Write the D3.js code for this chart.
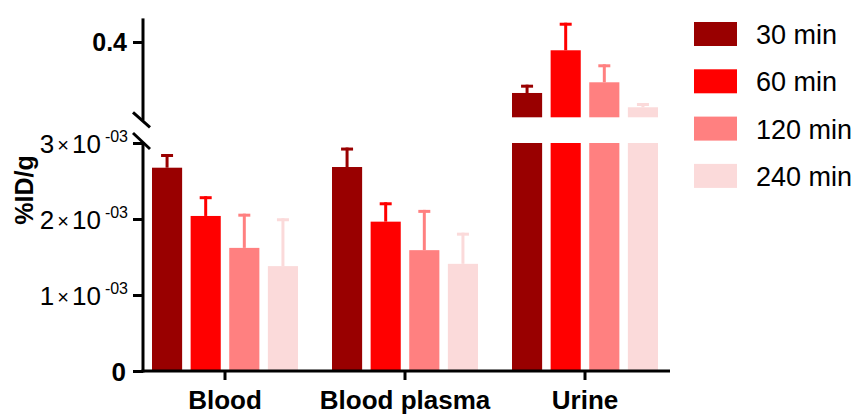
<!DOCTYPE html>
<html>
<head>
<meta charset="utf-8">
<script src="https://cdn.jsdelivr.net/npm/d3@7"></script>
<style>
  body { margin: 0; background: #fff; }
  svg { display: block; font-family: Arial, "Liberation Sans", sans-serif; }
</style>
</head>
<body>
<svg id="chart" width="860" height="415"></svg>
<script>
// ---- data ----
const groups = ["Blood", "Blood plasma", "Urine"];
const series = ["30 min", "60 min", "120 min", "240 min"];
const colors = ["#990000", "#ff0000", "#ff8080", "#fbdada"];
const means = [
  [0.002675, 0.002684, 0.3323],
  [0.00204, 0.001965, 0.389],
  [0.00162, 0.00159, 0.3465],
  [0.00138, 0.00141, 0.3133]
];
const errs = [
  [0.00018, 0.000256, 0.011],
  [0.00026, 0.000255, 0.0366],
  [0.00045, 0.00053, 0.0239],
  [0.00063, 0.00041, 0.0057]
];
const lowTicks = [0, 0.001, 0.002, 0.003];
const lowTickLabels = ["0", "1", "2", "3"];
const highTicks = [0.4];
const highTickLabels = ["0.4"];
const lowDomain = [0, 0.003];
const highDomain = [0.3, 0.43];

// ---- layout ----
const FONT = 'Arial, "Liberation Sans", sans-serif';
const svg = d3.select("#chart");
const axisX = 143;
const x0 = d3.scaleBand().domain(groups).range([135, 675]).padding(0);
const x1 = d3.scaleBand().domain(series).range([17, 163]).paddingInner(0.22).paddingOuter(0);
const yLow = d3.scaleLinear().domain(lowDomain).range([371, 143]);
const yHigh = d3.scaleLinear().domain(highDomain)
  .range([117.3, 117.3 - (highDomain[1] - highDomain[0]) * 753]);

// ---- bars ----
const data = [];
series.forEach((s, si) => groups.forEach((g, gi) => {
  data.push({ s, si, g, gi, v: means[si][gi], e: errs[si][gi] });
}));

const bars = svg.append("g");
data.forEach(d => {
  const x = x0(d.g) + x1(d.s);
  const w = x1.bandwidth();
  const c = colors[d.si];
  const lowTop = yLow(Math.min(d.v, lowDomain[1]));
  bars.append("rect").attr("x", x).attr("y", lowTop).attr("width", w)
    .attr("height", yLow(0) - lowTop).attr("fill", c);
  const top = d.v + d.e;
  let barTopY, errY;
  if (d.v > lowDomain[1]) {
    barTopY = yHigh(d.v);
    bars.append("rect").attr("x", x).attr("y", barTopY).attr("width", w)
      .attr("height", yHigh(highDomain[0]) - barTopY).attr("fill", c);
    errY = yHigh(top);
  } else {
    barTopY = lowTop;
    errY = yLow(top);
  }
  const cx = x + w / 2;
  bars.append("line").attr("x1", cx).attr("x2", cx).attr("y1", barTopY).attr("y2", errY)
    .attr("stroke", c).attr("stroke-width", 3);
  bars.append("line").attr("x1", cx - 6).attr("x2", cx + 6).attr("y1", errY + 1.5).attr("y2", errY + 1.5)
    .attr("stroke", c).attr("stroke-width", 3);
});

// ---- y axes ----
const lowAxis = svg.append("g").attr("transform", `translate(${axisX},0)`)
  .call(d3.axisLeft(yLow).tickValues(lowTicks).tickSize(10).tickSizeOuter(0).tickFormat(() => ""))
  .attr("font-family", FONT);
lowAxis.select(".domain").remove();
lowAxis.selectAll(".tick line").attr("stroke", "#000").attr("stroke-width", 3);
lowAxis.selectAll(".tick text").each(function(d, i) {
  const t = d3.select(this).attr("x", -15).attr("dy", "0.35em")
    .attr("font-size", 26).attr("fill", "#000").attr("text-anchor", "end");
  t.text(null);
  if (d === 0) {
    t.attr("font-weight", "bold").attr("x", -17).text("0");
  } else {
    t.append("tspan").text(lowTickLabels[i]);
    t.append("tspan").attr("font-size", 20).attr("dx", 3).attr("dy", -1).text("\u00d7");
    t.append("tspan").attr("font-size", 26).attr("dx", 3).attr("dy", 1).text("10");
    t.append("tspan").attr("font-size", 16).attr("dx", 4).attr("dy", -11).text("-03");
  }
});

const highAxis = svg.append("g").attr("transform", `translate(${axisX},0)`)
  .call(d3.axisLeft(yHigh).tickValues(highTicks).tickSize(10).tickSizeOuter(0)
    .tickFormat((d, i) => highTickLabels[i]))
  .attr("font-family", FONT);
highAxis.select(".domain").remove();
highAxis.selectAll(".tick line").attr("stroke", "#000").attr("stroke-width", 3);
highAxis.selectAll(".tick text").attr("x", -16).attr("font-size", 25)
  .attr("font-weight", "bold").attr("fill", "#000");

// axis lines with break
const axG = svg.append("g").attr("stroke", "#000").attr("stroke-width", 3).attr("fill", "none");
const hb = yHigh(highDomain[0]);
const lt = yLow(lowDomain[1]);
axG.append("line").attr("x1", axisX).attr("x2", axisX).attr("y1", yHigh.range()[1] - 1).attr("y2", hb + 3);
axG.append("line").attr("x1", axisX).attr("x2", axisX).attr("y1", lt - 1).attr("y2", yLow(0) + 1.5);
axG.append("line").attr("x1", axisX - 10).attr("y1", hb - 5).attr("x2", axisX + 7).attr("y2", hb + 10);
axG.append("line").attr("x1", axisX - 10).attr("y1", lt - 10).attr("x2", axisX + 7).attr("y2", lt + 6);

// ---- x axis ----
const xAxis = svg.append("g").attr("transform", `translate(0,${yLow(0)})`)
  .call(d3.axisBottom(x0).tickSize(9).tickSizeOuter(0))
  .attr("font-family", FONT);
xAxis.select(".domain").remove();
xAxis.selectAll(".tick line").attr("stroke", "#000").attr("stroke-width", 3);
xAxis.selectAll(".tick text").attr("y", 38).attr("dy", 0).attr("font-size", 26)
  .attr("font-weight", "bold").attr("fill", "#000");
axG.append("line").attr("x1", axisX - 1.5).attr("x2", 670).attr("y1", yLow(0)).attr("y2", yLow(0));

// ---- y title ----
svg.append("text").attr("transform", `translate(33,190) rotate(-90)`)
  .attr("text-anchor", "middle").attr("font-size", 25).attr("font-weight", "bold")
  .text("%ID/g");

// ---- legend ----
const leg = svg.append("g");
series.forEach((s, i) => {
  const y = 22 + i * 47.3;
  leg.append("rect").attr("x", 694).attr("y", y).attr("width", 43).attr("height", 24).attr("fill", colors[i]);
  leg.append("text").attr("x", 756).attr("y", y + 22).attr("font-size", 27).text(s);
});
</script>
</body>
</html>
